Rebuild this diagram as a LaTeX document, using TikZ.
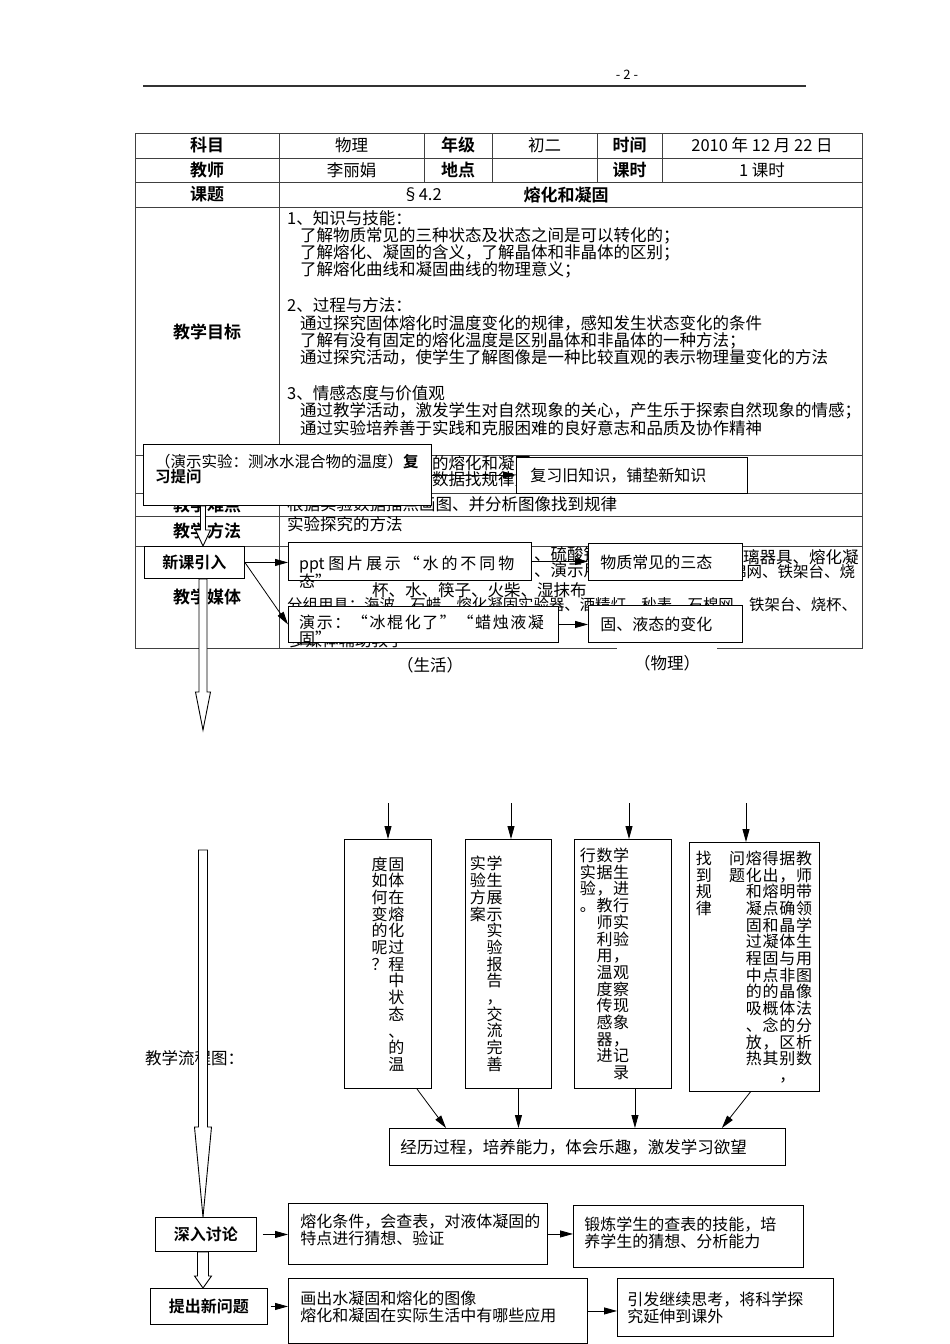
\documentclass[tikz,border=0pt]{standalone}
\usepackage{fontspec}
\setmainfont{Noto Sans CJK SC}[BoldFont={Noto Sans CJK SC Bold}]
\usetikzlibrary{positioning,arrows.meta,calc}

% one column of vertical text, one character per line
\makeatletter
\newcommand\vcol[1]{\vtop{\@tfor\vch:=#1\do{\hbox to 16.7pt{\hss\vch\hss}}}}
\makeatother

% hollow block arrow pointing down: start, tip, shaft half width, head half width, head length
\newcommand\hollowdown[5]{%
  \draw[hollow] let \p1=#1, \p2=#2 in
    (\x1-#3,\y1) -- (\x1+#3,\y1) -- (\x1+#3,\y2+#5) -- (\x1+#4,\y2+#5)
    -- (\x1,\y2) -- (\x1-#4,\y2+#5) -- (\x1-#3,\y2+#5) -- cycle;}

\begin{document}
\begin{tikzpicture}[x=1pt, y=-1pt,
    txt/.style={inner sep=0pt, font=\fontsize{16.5}{17.2}\selectfont},
    hd/.style={inner sep=0pt, font=\fontsize{17}{18}\selectfont\bfseries},
    tabline/.style={line width=0.8pt, black!75},
    flowbox/.style={draw, fill=white, line width=0.9pt, anchor=north west, inner ysep=0pt,
      inner xsep=12pt, align=left, font=\fontsize{16}{17}\selectfont},
    tagbox/.style={draw, fill=white, line width=0.9pt, anchor=north west, inner sep=0pt,
      font=\fontsize{16}{18}\selectfont\bfseries},
    colbox/.style={draw, fill=white, line width=0.9pt, anchor=north west, inner ysep=0pt,
      minimum height=249pt, font=\fontsize{16}{16.7}\selectfont},
    arr/.style={-{Triangle[length=13pt,width=7pt]}, line width=0.8pt},
    hollow/.style={draw, fill=white, line width=0.9pt}
]
\useasboundingbox (0,0) rectangle (950,1344);

% page head
\node[txt, font=\fontsize{13}{14}\selectfont] (pageno) at (627,75) {- 2 -};
\draw[line width=1.6pt, black!80] (143,86) -- (806,86);

% table
\draw[tabline] (135,133) rectangle (862,648);
\foreach \y in {158,182,207,455,493,516,546}
  \draw[tabline] (135,\y) -- (862,\y);
\draw[tabline] (279,133) -- (279,648);
\foreach \x in {424,492,597,662}
  \draw[tabline] (\x,133) -- (\x,182);

\node[hd] (subj) at (207,145.5) {科目};
\node[txt] (subjv) at (351.5,145.5) {物理};
\node[hd] (grade) at (458,145.5) {年级};
\node[txt] (gradev) at (544.5,145.5) {初二};
\node[hd] (date) at (629.5,145.5) {时间};
\node[txt] (datev) at (762,145.5) {2010 年 12 月 22 日};
\node[hd] (teach) at (207,170) {教师};
\node[txt] (teachv) at (351.5,170) {李丽娟};
\node[hd] (place) at (458,170) {地点};
\node[hd] (hours) at (629.5,170) {课时};
\node[txt] (hoursv) at (762,170) {1 课时};
\node[hd] (topic) at (207,194.5) {课题};
\node[txt] (topicno) at (422,194.5) {§4.2};
\node[hd] (topicv) at (566,194.5) {熔化和凝固};

\node[hd] (aims) at (207,332) {教学目标};
\node[txt, anchor=north west, align=left] (aimsv) at (287,210) {1、知识与技能：\\
\hspace*{13pt}了解物质常见的三种状态及状态之间是可以转化的；\\
\hspace*{13pt}了解熔化、凝固的含义，了解晶体和非晶体的区别；\\
\hspace*{13pt}了解熔化曲线和凝固曲线的物理意义；\\[19pt]
2、过程与方法：\\
\hspace*{13pt}通过探究固体熔化时温度变化的规律，感知发生状态变化的条件\\
\hspace*{13pt}了解有没有固定的熔化温度是区别晶体和非晶体的一种方法；\\
\hspace*{13pt}通过探究活动，使学生了解图像是一种比较直观的表示物理量变化的方法\\[19pt]
3、情感态度与价值观\\
\hspace*{13pt}通过教学活动，激发学生对自然现象的关心，产生乐于探索自然现象的情感；\\
\hspace*{13pt}通过实验培养善于实践和克服困难的良好意志和品质及协作精神};

\node[txt, anchor=west] (keya) at (432,463) {的熔化和凝固};
\node[txt, anchor=west] (keyb) at (432,479) {数据找规律方};
\node[hd] (hard) at (207,505) {教学难点};
\node[txt, anchor=west] (hardv) at (287,504) {根据实验数据描点画图、并分析图像找到规律};
\node[hd] (meth) at (207,531) {教学方法};
\node[txt, anchor=west] (methv) at (287,524) {实验探究的方法};
\node[hd] (media) at (207,597) {教学媒体};
\node[txt, anchor=west] (meda) at (534,554) {、硫酸铜};
\node[txt, anchor=west] (medb) at (743,557) {璃器具、熔化凝};
\node[txt, anchor=west] (medc) at (534,570) {、演示用};
\node[txt, anchor=west, font=\fontsize{15.5}{17}\selectfont] (medd) at (731,572) {棉网、铁架台、烧};
\node[txt, anchor=west] (mede) at (372,590) {杯、水、筷子、火柴、湿抹布};
\node[txt, anchor=west, font=\fontsize{15.4}{17}\selectfont] (medf) at (287,605)
  {分组用具：海波、石蜡、熔化凝固实验器、酒精灯、秒表、石棉网、铁架台、烧杯、};
\node[txt, anchor=west] (medg) at (289,640) {多媒体辅助教学};

% review and lead-in
\node[flowbox, minimum width=288pt, minimum height=61pt] (rev) at (143,444) {};
\node[txt, anchor=north west, align=left, font=\fontsize{15.5}{15}\selectfont] (revtxt)
  at ([xshift=12pt,yshift=-10pt]rev.north west)
  {（演示实验：测冰水混合物的温度）\textbf{复}\\\textbf{习提问}};
\node[flowbox, minimum width=231pt, minimum height=36pt, inner xsep=14pt, text width=203pt] (old) at (516,457)
  {复习旧知识，铺垫新知识};
\node[tagbox, minimum width=100pt, minimum height=32pt] (intro) at (144,546) {新课引入};
\node[flowbox, minimum width=243pt, minimum height=38pt] (ppt) at (288,542) {};
\node[txt, anchor=north west, align=left, font=\fontsize{16}{14}\selectfont] (ppttxt)
  at ([xshift=11pt,yshift=-13.5pt]ppt.north west)
  {ppt {\addfontfeature{LetterSpace=18}图片展示“水的不同物}\\态”};
\node[flowbox, minimum width=154pt, minimum height=37pt, text width=130pt] (trio) at (588,543)
  {物质常见的三态};
\node[flowbox, minimum width=270pt, minimum height=36pt] (demo) at (288,606) {};
\node[txt, anchor=north west, align=left, font=\fontsize{16}{13}\selectfont] (demotxt)
  at ([xshift=11pt,yshift=-8.5pt]demo.north west)
  {{\addfontfeature{LetterSpace=10}演示：“冰棍化了”“蜡烛液凝}\\固”};
\node[flowbox, minimum width=154pt, minimum height=37pt, text width=130pt] (change) at (588,605)
  {固、液态的变化};
\node[txt, fill=white, minimum width=100pt, minimum height=32pt] (physlbl) at (667,663) {（物理）};
\node[txt] (lifelbl) at (430,665) {（生活）};

\draw[arr] (rev.east) -- (rev.east -| old.west);
\draw[arr] (intro.east) -- (intro.east -| ppt.west);
\draw[arr] (intro.east) -- (demo.west);
\draw[arr] (ppt.east) -- (ppt.east -| trio.west);
\draw[arr] (demo.east) -- (demo.east -| change.west);

% inquiry
\node[txt, anchor=west] (flowttl) at (145,1058) {教学流程图：};
\coordinate (in1) at (388,803);
\coordinate (in2) at (511,803);
\coordinate (in3) at (629,803);
\coordinate (in4) at (746,803);
\node[colbox, minimum width=87pt, inner xsep=0pt] (v1) at (344,839)
  {\vcol{度如何变的呢？}\vcol{固体在熔化过程中状态、的温}};
\node[colbox, minimum width=86pt, inner xsep=4pt, text width=78pt, align=left] (v2) at (465,839)
  {\vcol{实验方案}\vcol{学生展示实验报告，交流完善}};
\node[colbox, minimum width=97pt, inner xsep=5pt, text width=87pt, align=left] (v3) at (574,839)
  {\vcol{行实验。}\vcol{数据，教师利用温度传感器进}\vcol{学生进行实验，观察现象，记录}};
\node[colbox, minimum width=130pt, inner xsep=6pt, text width=118pt, align=left] (v4) at (689,842)
  {\vcol{找到规律}\hspace{16.7pt}\vcol{问题}\vcol{熔化和凝固过程中的吸、放热}\vcol{得出熔点和凝固点的概念，其}\vcol{据，明确晶体与非晶体的区别，}\vcol{教师带领学生用图像法分析数}};
\node[flowbox, minimum width=396pt, minimum height=37pt, inner xsep=11pt, text width=374pt,
  font=\fontsize{16.5}{17.5}\selectfont] (exp) at (389,1128)
  {经历过程，培养能力，体会乐趣，激发学习欲望};

\draw[arr] (in1) -- (in1 |- v1.north);
\draw[arr] (in2) -- (in2 |- v2.north);
\draw[arr] (in3) -- (in3 |- v3.north);
\draw[arr] (in4) -- (in4 |- v4.north);
\draw[arr] ($(v1.south)+(29,0)$) -- ($(exp.north west)+(57,0)$);
\draw[arr] ($(v2.south)+(10,0)$) -- ($(v2.south |- exp.north)+(10,0)$);
\draw[arr] ($(v3.south)+(12,0)$) -- ($(v3.south |- exp.north)+(12,0)$);
\draw[arr] ($(v4.south)+(-4,0)$) -- ($(exp.north east)+(-64,0)$);

% discussion and new questions
\node[tagbox, minimum width=101pt, minimum height=34pt] (deep) at (155,1217) {深入讨论};
\node[flowbox, minimum width=259pt, minimum height=61pt, text width=235pt] (cond) at (288,1203)
  {熔化条件，会查表，对液体凝固的\\特点进行猜想、验证\\[-8pt]\mbox{}};
\node[flowbox, minimum width=230pt, minimum height=62pt, inner xsep=11pt, text width=208pt] (train) at (573,1205)
  {锻炼学生的查表的技能，培\\养学生的猜想、分析能力\\[-8pt]\mbox{}};
\node[tagbox, minimum width=117pt, minimum height=36pt] (newq) at (150,1288) {提出新问题};
\node[flowbox, minimum width=299pt, minimum height=65pt, text width=275pt] (plan) at (288,1278)
  {画出水凝固和熔化的图像\\熔化和凝固在实际生活中有哪些应用\\[-8pt]\mbox{}};
\node[flowbox, minimum width=216pt, minimum height=58pt, inner xsep=10pt, text width=196pt] (inspire) at (617,1278)
  {引发继续思考，将科学探\\究延伸到课外};

\draw[arr, shorten <=6pt] (deep.east) -- (deep.east -| cond.west);
\draw[arr] (cond.east) -- (cond.east -| train.west);
\draw[arr, shorten <=3pt] (newq.east) -- (newq.east -| plan.west);
\draw[arr] (plan.east) -- (plan.east -| inspire.west);

% main flow
\coordinate (spine) at (203,0);
\coordinate (gap1) at (203,730);
\coordinate (gap2) at (203,850);
\hollowdown{(spine |- rev.south)}{(spine |- intro.north)}{2.5pt}{7.5pt}{16pt}
\hollowdown{(spine |- intro.south)}{(gap1)}{4pt}{7.5pt}{38pt}
\hollowdown{(gap2)}{(spine |- deep.north)}{4.5pt}{8.5pt}{90pt}
\hollowdown{(spine |- deep.south)}{(spine |- newq.north)}{5.5pt}{8.5pt}{12pt}
\end{tikzpicture}
\end{document}
